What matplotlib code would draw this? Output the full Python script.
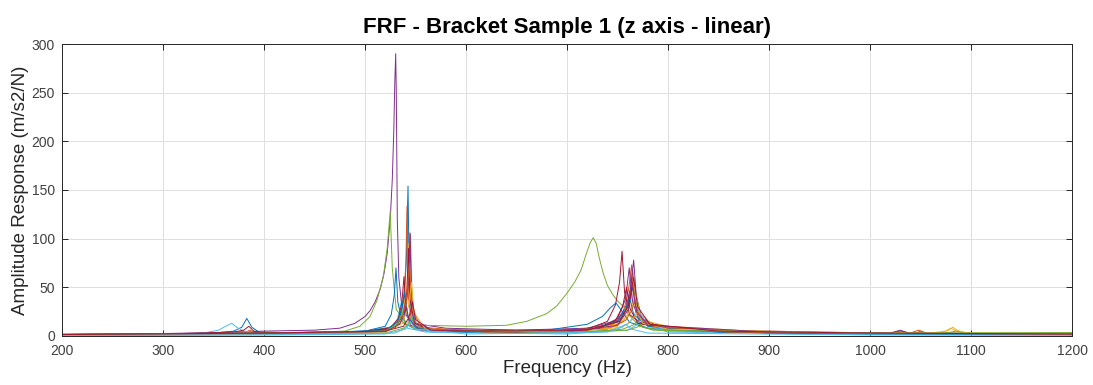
import matplotlib
matplotlib.use("Agg")
import matplotlib.pyplot as plt

plt.rcParams['font.family'] = ['Liberation Sans', 'DejaVu Sans']

# MATLAB default line colours
BLUE = '#0072BD'
ORANGE = '#D95319'
YELLOW = '#EDB120'
PURPLE = '#7E2F8E'
GREEN = '#77AC30'
LBLUE = '#4DBEEE'
RED = '#A2142F'

TITLE = 'FRF - Bracket Sample 1 (z axis - linear)'
X_LABEL = 'Frequency (Hz)'
Y_LABEL = 'Amplitude Response (m/s2/N)'
X_TICKS = [200, 300, 400, 500, 600, 700, 800, 900, 1000, 1100, 1200]
Y_TICKS = [0, 50, 100, 150, 200, 250, 300]

# FRF curves: frequency (Hz) / amplitude (m/s2/N)
f01 = [200, 300, 350, 370, 378, 383, 388, 395, 450, 500, 525, 535, 539, 541, 542.6, 544, 547, 555, 600, 680, 730, 752, 760, 763, 765, 767, 772, 785, 810, 850, 950, 1050, 1200]
a01 = [1.5, 2, 3, 5, 9, 18, 9, 4, 3, 5, 9, 18, 40, 80, 154, 45, 16, 8, 4, 4, 7, 15, 30, 48, 68, 40, 20, 12, 8, 5, 3, 2, 2]

f02 = [200, 300, 380, 386, 392, 450, 500, 525, 534, 538.5, 540.5, 541.6, 543, 546, 555, 600, 700, 745, 756, 761, 764, 766.5, 772, 785, 810, 850, 950, 1045, 1050, 1055, 1200]
a02 = [1, 1.5, 3, 6, 3, 2.5, 4, 8, 17, 40, 75, 133, 40, 14, 7, 4, 5, 12, 25, 48, 73, 38, 18, 12, 8, 5, 3, 3, 5, 3, 2]

f03 = [200, 300, 400, 500, 528, 538, 541.5, 543.5, 545, 549, 560, 620, 700, 750, 760, 763.5, 766, 768.5, 775, 800, 900, 1060, 1075, 1080, 1085, 1100, 1200]
a03 = [1, 1.5, 2.5, 4, 9, 25, 50, 95, 38, 13, 6, 4, 4, 10, 22, 38, 60, 32, 16, 10, 4, 3, 5, 8, 5, 3, 2]

f04 = [200, 300, 350, 400, 450, 475, 490, 500, 505, 510, 515, 519, 522, 525, 527, 528.5, 529.5, 530.4, 531, 532, 533.5, 536, 540, 548, 580, 650, 720, 750, 759, 763, 766, 768.5, 774, 790, 850, 950, 1020, 1030, 1040, 1200]
a04 = [2, 2.5, 3.5, 5, 6, 8, 13, 20, 26, 35, 48, 65, 85, 120, 160, 210, 260, 290, 250, 120, 60, 35, 22, 13, 8, 6, 8, 16, 32, 50, 78, 42, 18, 10, 6, 4, 3, 5, 3, 2]

f05 = [200, 300, 400, 450, 480, 495, 505, 512, 518, 522, 525, 527, 531, 540, 555, 600, 640, 660, 680, 690, 700, 708, 714, 719, 723, 726, 729, 732, 736, 740, 745, 750, 756, 762, 769, 780, 790, 850, 950, 1050, 1200]
a05 = [1.5, 2, 3, 4, 5, 10, 20, 37, 60, 90, 128, 70, 27, 15, 11, 10, 11, 15, 23, 31, 44, 56, 68, 84, 96, 101, 95, 80, 64, 52, 43, 36, 30, 21, 13, 8, 6, 4, 3, 2.5, 2]

f06 = [200, 300, 340, 355, 362, 368, 373, 380, 400, 500, 525, 532, 534.5, 536, 537.5, 542, 560, 650, 740, 760, 766, 770, 774, 785, 850, 950, 1200]
a06 = [1, 1.5, 3, 6, 10, 13, 9, 5, 3, 3, 7, 17, 28, 35, 20, 8, 4, 3, 5, 12, 20, 30, 16, 9, 4, 2, 1.5]

f07 = [200, 300, 370, 380, 385, 390, 400, 500, 525, 533, 536.5, 538.6, 540.5, 545, 560, 650, 720, 740, 748, 752, 754.5, 757, 762, 775, 800, 820, 950, 1200]
a07 = [1.5, 2, 4, 6, 10, 5, 3, 4, 8, 18, 34, 61, 28, 11, 6, 4, 7, 15, 32, 55, 87, 45, 22, 12, 9, 6, 3, 2]

f08 = [200, 300, 400, 500, 520, 526, 529, 530.7, 532.5, 537, 550, 600, 680, 720, 735, 743, 748.5, 754, 762, 780, 850, 1000, 1200]
a08 = [1.5, 2, 3, 5, 10, 22, 42, 70, 35, 14, 7, 5, 6, 12, 20, 29, 34, 26, 14, 8, 4, 2.5, 2]

f09 = [200, 300, 390, 400, 500, 530, 540, 543.3, 545, 546.5, 550, 565, 650, 740, 756, 762, 765, 768, 775, 800, 900, 1200]
a09 = [1, 1.5, 3, 2.5, 4, 9, 25, 55, 105, 40, 14, 6, 4, 8, 20, 38, 55, 30, 14, 9, 3, 1.5]

f10 = [200, 350, 450, 520, 533, 537.5, 540, 542.5, 550, 600, 720, 755, 764, 768, 772, 785, 850, 1000, 1200]
a10 = [0.8, 1.5, 2.5, 5, 12, 25, 40, 20, 7, 4, 5, 14, 28, 45, 24, 11, 5, 2, 1]

f11 = [200, 300, 400, 500, 530, 540, 543, 544.5, 546, 550, 570, 650, 730, 750, 758, 761.6, 765, 772, 800, 900, 1200]
a11 = [1.5, 2, 3, 4, 9, 26, 55, 106, 40, 13, 6, 4, 7, 18, 38, 70, 35, 14, 8, 3, 2]

f12 = [200, 400, 520, 538, 543, 546, 549, 560, 700, 755, 765, 770, 775, 800, 1000, 1075, 1085, 1095, 1200]
a12 = [1, 2, 3, 8, 13, 20, 11, 5, 3, 7, 11, 15, 9, 5, 3, 3, 5, 3, 3.5]

f13 = [200, 400, 520, 540, 545, 548, 551, 565, 700, 760, 770, 775, 780, 800, 1000, 1200]
a13 = [0.5, 1, 2, 7, 14, 25, 12, 4, 2, 6, 12, 20, 10, 4, 1.5, 1]

f14 = [200, 300, 400, 500, 530, 538, 541.5, 543, 544.5, 549, 565, 650, 730, 748, 755, 759, 762.5, 770, 800, 900, 1200]
a14 = [1.5, 2, 3, 4.5, 9, 22, 45, 90, 38, 13, 6, 4, 7, 16, 30, 50, 28, 13, 8, 3, 1.5]

f15 = [200, 350, 450, 520, 532, 536.5, 539, 541.5, 550, 600, 720, 750, 758, 762, 766, 780, 850, 1000, 1200]
a15 = [1, 2, 3, 6, 14, 28, 45, 22, 8, 4, 6, 15, 27, 40, 22, 10, 4, 2, 1.5]

f16 = [200, 350, 450, 520, 535, 541, 544, 546.5, 555, 620, 740, 758, 764, 767, 770, 785, 860, 1000, 1040, 1048, 1056, 1200]
a16 = [0.8, 1.5, 2.5, 5, 13, 35, 75, 30, 9, 4, 7, 16, 26, 35, 20, 10, 4, 2.5, 3, 6, 3, 1.5]

f17 = [200, 400, 520, 537, 543, 546, 548.5, 560, 700, 755, 765, 770, 775, 800, 1000, 1070, 1078, 1082, 1086, 1095, 1200]
a17 = [1, 2, 4, 13, 30, 55, 24, 7, 4, 9, 17, 25, 13, 7, 3, 3.5, 6, 9, 6, 3, 2]

f18 = [200, 400, 520, 534, 538.5, 541, 543.5, 555, 700, 750, 760, 765, 769, 780, 900, 1020, 1030, 1038, 1200]
a18 = [1.2, 2.5, 4.5, 12, 20, 30, 16, 6, 4, 11, 26, 50, 25, 11, 4, 3, 6, 3, 2]

f19 = [200, 400, 520, 532, 535, 537, 539.5, 550, 700, 760, 772, 785, 1000, 1200]
a19 = [1.5, 3, 5, 12, 18, 25, 13, 7, 4, 6, 10, 6, 3, 3]

f20 = [200, 450, 530, 540, 545, 550, 600, 740, 752, 758, 764, 780, 1000, 1200]
a20 = [0.5, 1.5, 3, 8, 15, 7, 2, 4, 8, 12, 7, 3, 1, 0.8]

f21 = [200, 400, 520, 538, 543.5, 547, 550, 565, 720, 752, 761, 766, 770, 782, 850, 1000, 1200]
a21 = [1.5, 3, 5, 10, 19, 35, 17, 6, 6, 15, 32, 60, 30, 12, 5, 3, 2]

curves = [
    (f01, a01, BLUE), (f02, a02, ORANGE), (f03, a03, YELLOW), (f04, a04, PURPLE),
    (f05, a05, GREEN), (f06, a06, LBLUE), (f07, a07, RED),
    (f08, a08, BLUE), (f09, a09, ORANGE), (f10, a10, YELLOW), (f11, a11, PURPLE),
    (f12, a12, GREEN), (f13, a13, LBLUE), (f14, a14, RED),
    (f15, a15, BLUE), (f16, a16, ORANGE), (f17, a17, YELLOW), (f18, a18, PURPLE),
    (f19, a19, GREEN), (f20, a20, LBLUE), (f21, a21, RED),
]

AX_COLOR = '#262626'

fig = plt.figure(figsize=(10.93, 3.85), dpi=100)
ax = fig.add_axes([0.0567, 0.1273, 0.9241, 0.7584])

for f, a, c in curves:
    ax.plot(f, a, color=c, lw=0.7)

ax.set_xlim(200, 1200)
ax.set_ylim(0, 300)
ax.set_xticks(X_TICKS)
ax.set_yticks(Y_TICKS)
ax.grid(True, color='#dfdfdf', lw=0.7)
ax.set_axisbelow(True)

for s in ax.spines.values():
    s.set_color(AX_COLOR)
    s.set_linewidth(0.7)
ax.tick_params(direction='in', length=4, width=0.7, color=AX_COLOR,
               top=True, right=True, labelsize=10, labelcolor='#404040')
ax.tick_params(axis='x', pad=6)
ax.tick_params(axis='y', pad=5)

ax.set_xlabel(X_LABEL, fontsize=13.5, color=AX_COLOR, labelpad=1)
ax.set_ylabel(Y_LABEL, fontsize=13.5, color=AX_COLOR, labelpad=2)
ax.set_title(TITLE, fontsize=16, fontweight='bold', color='black', pad=8)

fig.savefig('out.png', dpi=100)
